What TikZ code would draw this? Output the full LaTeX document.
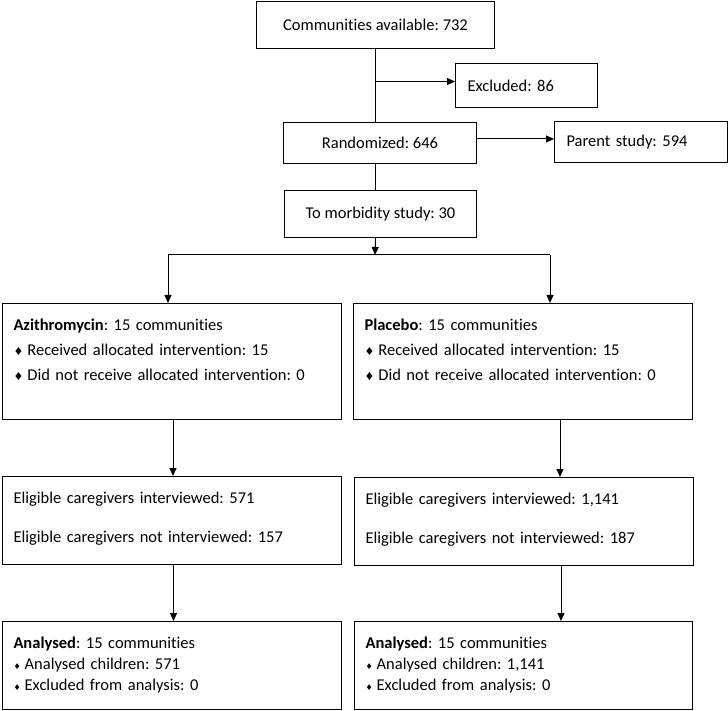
\documentclass[tikz,border=0pt]{standalone}
\usepackage{fontspec}
\setmainfont{Carlito}[Ligatures=NoCommon]
\newfontfamily\dingfont{DejaVu Sans}
\usetikzlibrary{arrows.meta}
\frenchspacing

\newcommand{\bul}{{\dingfont\fontsize{11}{11}\selectfont ♦}\hspace{4pt}}
\newcommand{\sbul}{{\dingfont\fontsize{8}{8}\selectfont ♦}\hspace{4pt}}

\tikzset{
  box/.style={draw, line width=1pt, inner sep=0pt},
  cbox/.style={box, anchor=north west, align=center},
  lbox/.style={box, anchor=north west, align=left, inner xsep=12pt},
  panel/.style={box, anchor=north west, align=left, inner xsep=11pt, text height=27pt},
  arr/.style={line width=1pt, -{Triangle[length=8pt,width=7pt]}},
  link/.style={line width=1pt},
}

\begin{document}
\begin{tikzpicture}[x=1pt, y=-1pt, font=\fontsize{16.5}{20}\selectfont]
\useasboundingbox (0,0) rectangle (728,711);

\node[cbox, minimum width=238pt, minimum height=47pt] (avail) at (256,1) {Communities available: 732}; % top box
\node[lbox, text width=118pt, minimum height=44pt] (excl) at (455,63) {Excluded: 86}; % excluded
\node[cbox, minimum width=193pt, minimum height=41pt] (rand) at (283,122) {Randomized: 646}; % randomized
\node[lbox, text width=149pt, minimum height=41pt] (parent) at (554,121) {Parent study: 594}; % parent study
\node[cbox, minimum width=192pt, minimum height=47pt] (morb) at (284,190) {To morbidity study: 30}; % morbidity study

\node[panel, text width=317pt, text depth=89pt, font=\fontsize{16.5}{25}\selectfont] (azi) at (2,303)
  {\textbf{Azithromycin}: 15 communities\\ \bul Received allocated intervention: 15\\ \bul Did not receive allocated intervention: 0}; % azithromycin arm
\node[panel, text width=317pt, text depth=89pt, font=\fontsize{16.5}{25}\selectfont] (plac) at (353,303)
  {\textbf{Placebo}: 15 communities\\ \bul Received allocated intervention: 15\\ \bul Did not receive allocated intervention: 0}; % placebo arm

\node[panel, text width=317pt, text depth=61pt, font=\fontsize{16.5}{38.7}\selectfont] (eligA) at (2,476)
  {Eligible caregivers interviewed: 571\\ Eligible caregivers not interviewed: 157}; % caregivers (1)
\node[panel, text width=317pt, text depth=61pt, font=\fontsize{16.5}{38.7}\selectfont] (eligP) at (354,477)
  {Eligible caregivers interviewed: 1,141\\ Eligible caregivers not interviewed: 187}; % caregivers (2)

\node[panel, text width=317pt, text depth=61pt, font=\fontsize{16.5}{21}\selectfont] (analA) at (2,621)
  {\textbf{Analysed}: 15 communities\\ \sbul Analysed children: 571\\ \sbul Excluded from analysis: 0}; % analysed (1)
\node[panel, text width=316pt, text depth=61pt, font=\fontsize{16.5}{21}\selectfont] (analP) at (354,621)
  {\textbf{Analysed}: 15 communities\\ \sbul Analysed children: 1,141\\ \sbul Excluded from analysis: 0}; % analysed (2)

\draw[link] (avail.south) -- (avail.south |- rand.north); % trunk
\draw[arr] (avail.south |- excl.west) ++(0,-4) -- ([yshift=4pt]excl.west); % to excluded
\draw[arr] ([yshift=4pt]rand.east) -- ([yshift=4pt]rand.east -| parent.west); % to parent study
\draw[link] (avail.south |- rand.south) -- (avail.south |- morb.north); % trunk (2)

\coordinate (split) at (375,255);
\coordinate (splitL) at (168,255);
\coordinate (splitR) at (550,255);
\draw[arr] (avail.south |- morb.south) -- (split); % to split
\draw[link] (splitL) -- (splitR); % split line
\draw[arr] (splitL) -- (splitL |- azi.north); % left branch
\draw[arr] (splitR) -- (splitR |- plac.north); % right branch

\draw[arr] ([xshift=1pt]azi.south) -- ([xshift=1pt]azi.south |- eligA.north); % azi -> caregivers
\draw[arr] ([xshift=37pt]plac.south) -- ([xshift=37pt]plac.south |- eligP.north); % placebo -> caregivers
\draw[arr] ([xshift=1.5pt]eligA.south) -- ([xshift=1.5pt]eligA.south |- analA.north); % caregivers -> analysed
\draw[arr] ([xshift=37pt]eligP.south) -- ([xshift=37pt]eligP.south |- analP.north); % caregivers -> analysed

\end{tikzpicture}
\end{document}
